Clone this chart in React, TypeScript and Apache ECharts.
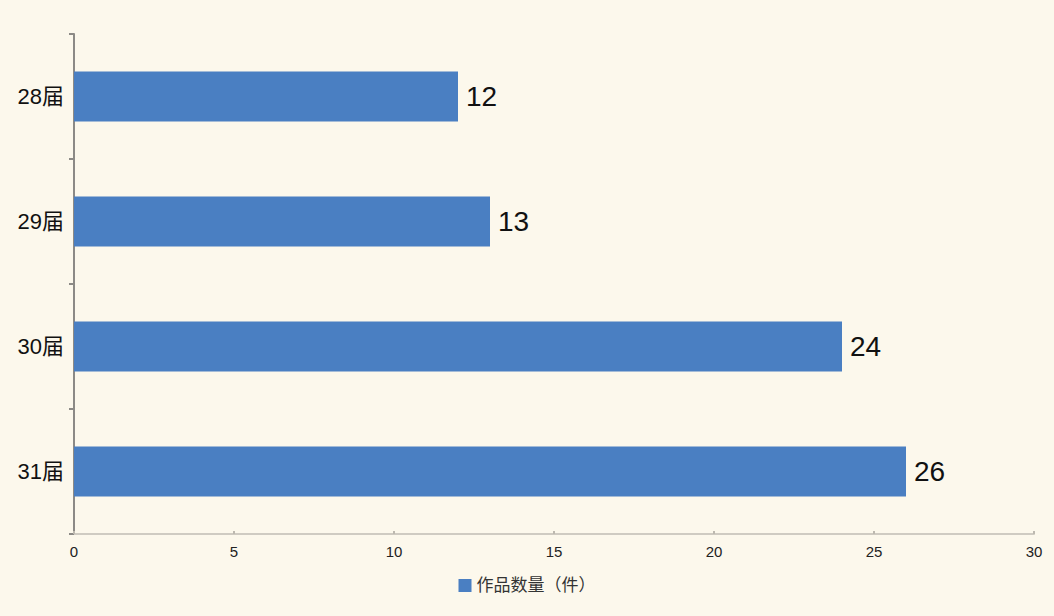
import { useEffect, useRef } from 'react'
import * as echarts from 'echarts'

const categories = ['28届', '29届', '30届', '31届']
const counts = [12, 13, 24, 26]
const seriesName = '作品数量（件）'
const xTicks = { min: 0, max: 30, interval: 5 }

const FONT = '"Liberation Sans", "Noto Sans CJK SC", sans-serif'

export default function App() {
  const chartRef = useRef<HTMLDivElement>(null)

  useEffect(() => {
    if (!chartRef.current) return
    const chart = echarts.init(chartRef.current, null, { renderer: 'svg' })

    const option: any = {
      animation: false,
      backgroundColor: '#fcf8ec',
      textStyle: { fontFamily: FONT },
      grid: {
        left: 74,
        right: 20,
        top: 34,
        bottom: 82
      },
      legend: {
        data: [seriesName],
        left: 'center',
        top: 572,
        icon: 'rect',
        itemWidth: 13,
        itemHeight: 13,
        itemGap: 10,
        textStyle: {
          fontSize: 17,
          color: '#333',
          fontFamily: FONT
        }
      },
      xAxis: {
        type: 'value',
        min: xTicks.min,
        max: xTicks.max,
        interval: xTicks.interval,
        axisLine: {
          show: true,
          lineStyle: { color: '#cfcbc2', width: 2 }
        },
        axisTick: {
          show: true,
          inside: true,
          length: 3,
          lineStyle: { color: '#bdb9b0', width: 2 }
        },
        axisLabel: {
          fontSize: 15,
          color: '#222',
          margin: 10
        },
        splitLine: { show: false }
      },
      yAxis: {
        type: 'category',
        inverse: true,
        data: categories,
        axisLine: {
          show: true,
          lineStyle: { color: '#8c8a86', width: 2 }
        },
        axisTick: {
          show: true,
          length: 5,
          lineStyle: { color: '#8c8a86', width: 2 }
        },
        axisLabel: {
          fontSize: 22,
          color: '#111',
          margin: 10
        }
      },
      series: [
        {
          name: seriesName,
          type: 'bar',
          data: counts,
          barWidth: 50,
          itemStyle: { color: '#4a7fc2' },
          label: {
            show: true,
            position: 'right',
            distance: 8,
            fontSize: 28,
            color: '#111',
            fontFamily: FONT
          }
        }
      ]
    }

    chart.setOption(option)

    return () => {
      chart.dispose()
    }
  }, [])

  return (
    <div
      ref={chartRef}
      style={{
        width: '1054px',
        height: '616px',
        position: 'fixed',
        left: 0,
        top: 0
      }}
    />
  )
}
